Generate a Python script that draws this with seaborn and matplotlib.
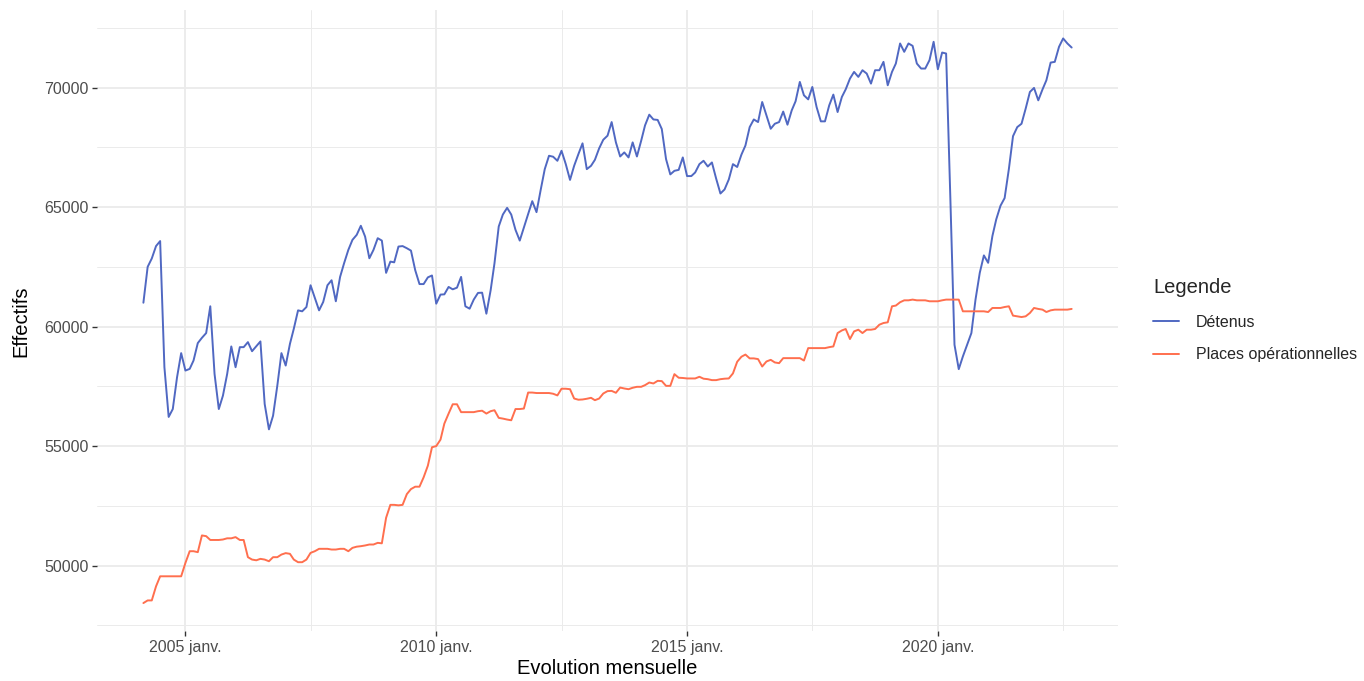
import matplotlib
matplotlib.use("Agg")
import matplotlib.pyplot as plt
import matplotlib.dates as mdates
import numpy as np
import pandas as pd
import seaborn as sns

# ---- data (monthly, March 2004 -> September 2022) ----
start_month = "2004-03-01"

detenus_2004 = [61000, 62500, 62850, 63370, 63580, 58300, 56220, 56550, 57880, 58890]
detenus_2005 = [58160, 58230, 58580, 59310, 59530, 59730, 60850, 58020, 56550, 57110, 58020, 59170]
detenus_2006 = [58300, 59140, 59140, 59350, 58970, 59180, 59380, 56760, 55700, 56270, 57530, 58890]
detenus_2007 = [58370, 59280, 59910, 60680, 60640, 60820, 61730, 61210, 60680, 61030, 61730, 61940]
detenus_2008 = [61060, 62080, 62650, 63210, 63630, 63840, 64220, 63770, 62860, 63210, 63700, 63600]
detenus_2009 = [62250, 62720, 62690, 63350, 63370, 63280, 63180, 62360, 61780, 61780, 62060, 62140]
detenus_2010 = [60960, 61340, 61350, 61660, 61560, 61630, 62080, 60850, 60750, 61130, 61410, 61420]
detenus_2011 = [60540, 61520, 62650, 64190, 64690, 64970, 64690, 64050, 63600, 64150, 64710, 65250]
detenus_2012 = [64790, 65740, 66590, 67150, 67110, 66940, 67360, 66800, 66140, 66730, 67220, 67670]
detenus_2013 = [66590, 66730, 66980, 67460, 67820, 67990, 68560, 67710, 67120, 67290, 67080, 67710]
detenus_2014 = [67120, 67780, 68420, 68870, 68670, 68650, 68270, 67010, 66370, 66520, 66560, 67080]
detenus_2015 = [66300, 66300, 66450, 66800, 66940, 66700, 66870, 66190, 65570, 65740, 66160, 66800]
detenus_2016 = [66680, 67200, 67580, 68350, 68670, 68560, 69400, 68840, 68280, 68490, 68560, 69000]
detenus_2017 = [68450, 69050, 69430, 70240, 69680, 69510, 70030, 69190, 68590, 68590, 69260, 69710]
detenus_2018 = [68980, 69610, 69930, 70380, 70660, 70450, 70730, 70590, 70170, 70730, 70730, 71080]
detenus_2019 = [70100, 70660, 71010, 71850, 71500, 71850, 71750, 71010, 70800, 70800, 71150, 71920]
detenus_2020 = [70770, 71470, 71430, 65340, 59240, 58220, 58750, 59240, 59730, 61130, 62250, 62980]
detenus_2021 = [62670, 63790, 64490, 65060, 65380, 66600, 67970, 68350, 68490, 69120, 69820, 69990]
detenus_2022 = [69470, 69930, 70310, 71050, 71080, 71710, 72060, 71850, 71680]

places_2004 = [48430, 48540, 48540, 49130, 49550, 49550, 49550, 49550, 49550, 49550]
places_2005 = [50110, 50600, 50600, 50560, 51260, 51230, 51070, 51070, 51070, 51090, 51140, 51140]
places_2006 = [51190, 51070, 51070, 50350, 50250, 50220, 50280, 50250, 50180, 50350, 50350, 50460]
places_2007 = [50520, 50490, 50250, 50140, 50140, 50250, 50530, 50600, 50700, 50700, 50700, 50670]
places_2008 = [50670, 50700, 50700, 50600, 50740, 50790, 50810, 50840, 50880, 50880, 50950, 50930]
places_2009 = [52000, 52540, 52540, 52520, 52540, 52990, 53200, 53300, 53300, 53690, 54180, 54950]
places_2010 = [55000, 55270, 55940, 56360, 56750, 56750, 56420, 56420, 56420, 56420, 56460, 56480]
places_2011 = [56360, 56460, 56500, 56180, 56150, 56110, 56080, 56550, 56550, 56570, 57240, 57240]
places_2012 = [57220, 57220, 57220, 57220, 57190, 57120, 57400, 57400, 57380, 56990, 56940, 56950]
places_2013 = [56980, 57020, 56920, 56990, 57200, 57300, 57310, 57230, 57450, 57410, 57380, 57440]
places_2014 = [57480, 57480, 57550, 57660, 57620, 57730, 57720, 57520, 57520, 58010, 57860, 57850]
places_2015 = [57830, 57830, 57830, 57900, 57820, 57800, 57760, 57760, 57800, 57820, 57830, 58040]
places_2016 = [58530, 58740, 58830, 58670, 58670, 58640, 58330, 58540, 58610, 58500, 58470, 58680]
places_2017 = [58680, 58680, 58680, 58680, 58580, 59100, 59100, 59100, 59100, 59100, 59140, 59170]
places_2018 = [59730, 59840, 59900, 59480, 59800, 59870, 59730, 59870, 59870, 59900, 60080, 60150]
places_2019 = [60180, 60850, 60880, 61020, 61100, 61100, 61130, 61100, 61100, 61100, 61060, 61060]
places_2020 = [61060, 61100, 61130, 61130, 61130, 61130, 60640, 60640, 60640, 60640, 60640, 60640]
places_2021 = [60610, 60780, 60780, 60780, 60820, 60850, 60460, 60430, 60400, 60430, 60570, 60780]
places_2022 = [60740, 60710, 60610, 60680, 60710, 60710, 60710, 60710, 60740]

series_names = ["Détenus", "Places opérationnelles"]
series_colors = ["#5068C2", "#FF6F4E"]
major_years = [2005, 2010, 2015, 2020]
major_labels = ["2005 janv.", "2010 janv.", "2015 janv.", "2020 janv."]
minor_years = [2007, 2012, 2017, 2022]
y_ticks = [50000, 55000, 60000, 65000, 70000]
y_minor = [47500, 52500, 57500, 62500, 67500, 72500]

detenus = sum([detenus_2004, detenus_2005, detenus_2006, detenus_2007, detenus_2008,
               detenus_2009, detenus_2010, detenus_2011, detenus_2012, detenus_2013,
               detenus_2014, detenus_2015, detenus_2016, detenus_2017, detenus_2018,
               detenus_2019, detenus_2020, detenus_2021, detenus_2022], [])
places = sum([places_2004, places_2005, places_2006, places_2007, places_2008,
              places_2009, places_2010, places_2011, places_2012, places_2013,
              places_2014, places_2015, places_2016, places_2017, places_2018,
              places_2019, places_2020, places_2021, places_2022], [])

dates = pd.date_range(start_month, periods=len(detenus), freq="MS")
df = pd.concat([
    pd.DataFrame({"date": dates, "value": detenus, "Legende": series_names[0]}),
    pd.DataFrame({"date": dates, "value": places, "Legende": series_names[1]}),
], ignore_index=True)

# ---- styling ----
sns.set_theme(style="white")
plt.rcParams["font.family"] = ["Liberation Sans", "DejaVu Sans"]

fig = plt.figure(figsize=(13.64, 6.81), dpi=100)
ax = fig.add_axes([0.0711, 0.073, 0.7486, 0.912])

sns.lineplot(data=df, x="date", y="value", hue="Legende",
             palette=dict(zip(series_names, series_colors)),
             linewidth=1.4, ax=ax, legend=True)

major_pos = [mdates.date2num(pd.Timestamp(f"{y}-01-01")) for y in major_years]
minor_pos = [mdates.date2num(pd.Timestamp(f"{y}-07-01")) for y in minor_years]
ax.set_xticks(major_pos)
ax.set_xticklabels(major_labels)
ax.set_xticks(minor_pos, minor=True)
ax.set_yticks(y_ticks)
ax.set_yticklabels([str(v) for v in y_ticks])
ax.set_yticks(y_minor, minor=True)

# limits with ggplot-like 5% expansion (set after ticks)
xn = mdates.date2num(dates)
xr = xn[-1] - xn[0]
ax.set_xlim(xn[0] - 0.05 * xr, xn[-1] + 0.05 * xr)
vals = np.array(detenus + places)
yr = vals.max() - vals.min()
ax.set_ylim(vals.min() - 0.05 * yr, vals.max() + 0.05 * yr)

for s in ax.spines.values():
    s.set_visible(False)
ax.grid(which="major", color="#EBEBEB", linewidth=1.3)
ax.grid(which="minor", color="#EBEBEB", linewidth=0.7)
ax.set_axisbelow(True)
ax.tick_params(axis="both", which="major", length=3.5, width=1.0, color="#333333",
               labelsize=11.5, labelcolor="#4D4D4D", pad=2.5, direction="out",
               bottom=True, left=True)
ax.tick_params(axis="both", which="minor", length=0)

ax.set_xlabel("Evolution mensuelle", fontsize=14.5, color="black", labelpad=3)
ax.set_ylabel("Effectifs", fontsize=14.5, color="black", labelpad=10)

handles, labels = ax.get_legend_handles_labels()
ax.get_legend().remove()
for h in handles:
    h.set_linewidth(1.4)
leg = fig.legend(handles, labels, title="Legende", loc="center left",
                 bbox_to_anchor=(0.835, 0.53), frameon=False,
                 fontsize=11.5, title_fontsize=14.5, handlelength=1.6,
                 handletextpad=1.05, labelspacing=1.1, alignment="left")

fig.savefig("out.png", dpi=100, facecolor="white")
